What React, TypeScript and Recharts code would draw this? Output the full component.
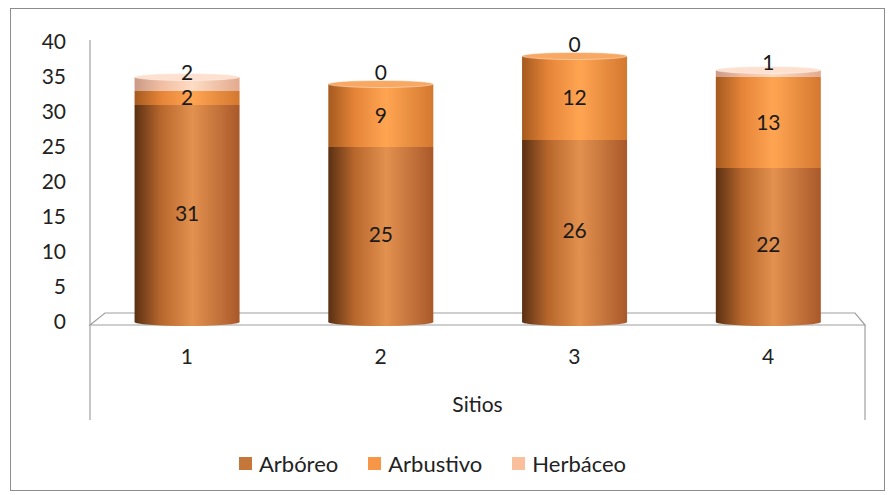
import { Bar, BarChart, LabelList, Legend, XAxis, YAxis, usePlotArea } from 'recharts';

const sites = ['1', '2', '3', '4'];
const arboreo = [31, 25, 26, 22];
const arbustivo = [2, 9, 12, 13];
const herbaceo = [2, 0, 0, 1];
const yTicks = [0, 5, 10, 15, 20, 25, 30, 35, 40];

const seriesKeys = ['arboreo', 'arbustivo', 'herbaceo'];
const seriesNames = ['Arbóreo', 'Arbustivo', 'Herbáceo'];
const legendColors = ['#c5773a', '#f79646', '#fac09c'];

const data = sites.map((sitio, i) => ({
  sitio,
  arboreo: arboreo[i],
  arbustivo: arbustivo[i],
  herbaceo: herbaceo[i],
}));

const FONT = 'Lato, "Open Sans", sans-serif';
const FS = 21;

// gradient stops for each series: left shadow, highlight, right edge
const gradients = [
  ['#5a3013', '#b8672c', '#e3914f', '#a9592a'],
  ['#a55a1f', '#e58438', '#ffa552', '#d3782f'],
  ['#c99a85', '#f0bda2', '#ffdcc5', '#e2aa8d'],
];
const capFills = ['#e0975a', '#f8a862', '#fde0cf'];

function makeCylinder(idx: number) {
  return (props: any) => {
    const { x, y, width, height, payload } = props;
    if (!payload || payload[seriesKeys[idx]] <= 0) return null;
    const isTop = seriesKeys.slice(idx + 1).every((k) => payload[k] <= 0);
    const cx = x + width / 2;
    const rx = width / 2;
    return (
      <g>
        {idx === 0 && <ellipse cx={cx} cy={y + height} rx={rx} ry={4} fill={`url(#cyl${idx})`} />}
        <rect x={x} y={y} width={width} height={height} fill={`url(#cyl${idx})`} />
        {isTop && (
          <ellipse cx={cx} cy={y} rx={rx} ry={3.5} fill={capFills[idx]} stroke="rgba(255,255,255,0.5)" strokeWidth={0.8} />
        )}
      </g>
    );
  };
}

function Floor() {
  const area = usePlotArea();
  if (!area) return null;
  const { x, y, width, height } = area;
  const base = y + height;
  return (
    <g>
      <line x1={x} y1={y - 2} x2={x} y2={base + 98} stroke="#a0a0a0" strokeWidth={1.2} />
      <line x1={x + width} y1={base + 3} x2={x + width} y2={base + 98} stroke="#a0a0a0" strokeWidth={1.2} />
      <polygon
        points={`${x},${base + 3} ${x + width},${base + 3} ${x + width - 10},${base - 9} ${x + 15},${base - 9}`}
        fill="#ffffff"
        stroke="#a0a0a0"
        strokeWidth={1.2}
      />
    </g>
  );
}

function LegendContent() {
  return (
    <div style={{ display: 'flex', justifyContent: 'center', gap: 30, fontFamily: FONT, fontSize: 22, color: '#222' }}>
      {seriesNames.map((n, i) => (
        <div key={n} style={{ display: 'flex', alignItems: 'center', gap: 7 }}>
          <span style={{ display: 'inline-block', width: 13, height: 13, background: legendColors[i] }} />
          <span>{n}</span>
        </div>
      ))}
    </div>
  );
}

export default function App() {
  return (
    <div style={{ position: 'absolute', left: 0, top: 0, width: 890, height: 495, background: '#fff' }}>
      <div
        style={{
          position: 'absolute',
          left: 10,
          top: 8,
          width: 875,
          height: 483,
          border: '1.5px solid #8c8c8c',
          boxSizing: 'border-box',
        }}
      />
      <BarChart
        width={890}
        height={495}
        data={data}
        margin={{ top: 42, right: 25, left: 0, bottom: 46 }}
        barCategoryGap="23%"
        style={{ position: 'absolute', left: 0, top: 0 }}
      >
        <defs>
          {gradients.map((g, i) => (
            <linearGradient key={i} id={`cyl${i}`} x1="0" y1="0" x2="1" y2="0">
              <stop offset="0%" stopColor={g[0]} />
              <stop offset="25%" stopColor={g[1]} />
              <stop offset="55%" stopColor={g[2]} />
              <stop offset="100%" stopColor={g[3]} />
            </linearGradient>
          ))}
        </defs>
        <Floor />
        <XAxis
          dataKey="sitio"
          height={100}
          axisLine={false}
          tickLine={false}
          tickMargin={21}
          tick={{ fontFamily: FONT, fontSize: FS, fill: '#222' }}
          label={{ value: 'Sitios', position: 'insideBottom', offset: 10, fontFamily: FONT, fontSize: FS, fill: '#222' }}
        />
        <YAxis
          width={90}
          domain={[0, 40]}
          ticks={yTicks}
          interval={0}
          axisLine={false}
          tickLine={false}
          tickMargin={18}
          tick={{ fontFamily: FONT, fontSize: FS, fill: '#222' }}
        />
        <Legend verticalAlign="bottom" wrapperStyle={{ bottom: 18 }} content={<LegendContent />} />
        {seriesKeys.map((k, i) => (
          <Bar
            key={k}
            dataKey={k}
            name={seriesNames[i]}
            stackId="a"
            fill={legendColors[i]}
            shape={makeCylinder(i)}
            isAnimationActive={false}
          >
            <LabelList
              dataKey={k}
              position="center"
              dy={i === 2 ? -11 : 0}
              style={{ fontFamily: FONT, fontSize: FS, fill: '#1a1a1a' }}
            />
          </Bar>
        ))}
      </BarChart>
    </div>
  );
}
